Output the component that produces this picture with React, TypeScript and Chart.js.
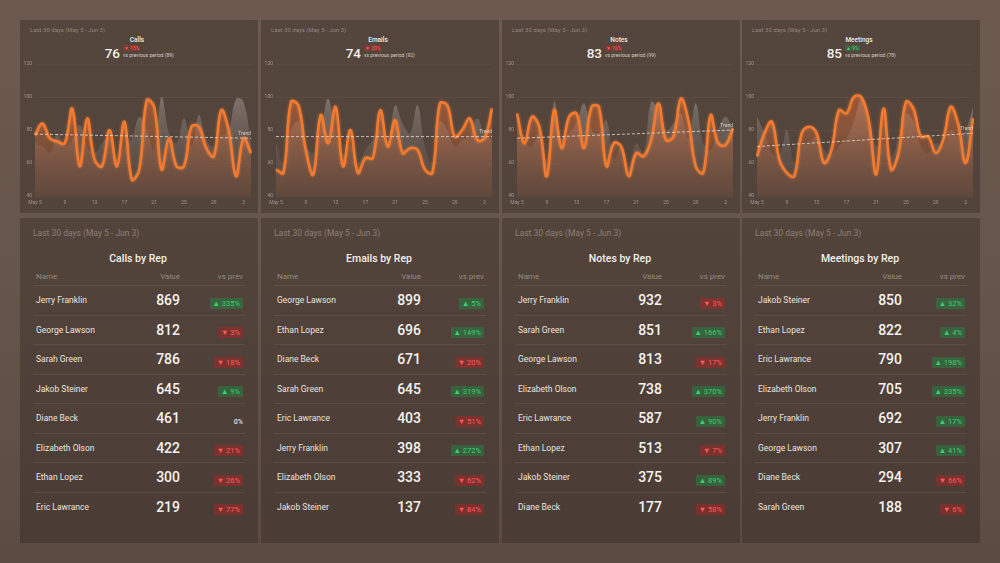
import React, { useEffect, useRef } from "react";
import { Chart, registerables } from "chart.js";
Chart.register(...registerables);

// ---------- data ----------
const dayLabels = [
  "May 5", "6", "7", "8", "9", "10", "11", "12", "13", "14", "15", "16", "17", "18", "19", "20",
  "21", "22", "23", "24", "25", "26", "27", "28", "29", "30", "31", "1", "2", "3",
];
const yTicks = [40, 60, 80, 100, 120];
const periodText = "Last 30 days (May 5 - Jun 3)";

const kpiTitles = ["Calls", "Emails", "Notes", "Meetings"];
const kpiValues = [76, 74, 83, 85];
const kpiPrevious = [89, 92, 99, 78];
const kpiChange = [-15, -20, -16, 9];

const callsCurrent = [77, 84, 75, 73, 72, 93, 58, 87, 62, 58, 80, 58, 85, 50, 56, 98, 94, 56, 75, 58, 58, 82, 82, 69, 64, 92, 80, 52, 75, 66];
const callsPrevious = [72, 70, 66, 78, 70, 74, 83, 70, 66, 72, 75, 62, 70, 75, 88, 80, 68, 100, 78, 72, 87, 70, 89, 74, 70, 76, 80, 99, 97, 72];
const emailsCurrent = [56, 54, 97, 95, 68, 53, 89, 72, 94, 58, 80, 54, 63, 63, 92, 70, 86, 66, 69, 68, 56, 54, 96, 95, 76, 80, 87, 74, 75, 93];
const emailsPrevious = [72, 60, 80, 85, 70, 66, 80, 99, 78, 65, 70, 60, 68, 74, 80, 72, 95, 84, 78, 95, 70, 60, 85, 80, 70, 74, 76, 87, 78, 74];
const notesCurrent = [90, 72, 88, 82, 52, 92, 69, 88, 90, 69, 94, 94, 58, 72, 70, 52, 66, 64, 74, 96, 74, 76, 99, 86, 58, 54, 89, 72, 71, 81];
const notesPrevious = [75, 72, 70, 80, 62, 97, 75, 78, 85, 96, 80, 78, 86, 62, 70, 58, 72, 66, 97, 92, 80, 84, 90, 75, 96, 72, 68, 80, 88, 80];
const meetingsCurrent = [64, 78, 85, 62, 54, 52, 78, 82, 78, 60, 68, 92, 90, 100, 100, 86, 53, 93, 56, 66, 97, 93, 76, 76, 66, 74, 94, 84, 60, 87];
const meetingsPrevious = [88, 78, 66, 64, 80, 60, 70, 72, 76, 68, 65, 70, 75, 85, 99, 88, 70, 72, 64, 75, 90, 85, 70, 66, 72, 70, 80, 76, 80, 94];

const trendStart = [77.5, 76, 75, 70];
const trendEnd = [75, 76, 80, 78];

const tableTitles = ["Calls by Rep", "Emails by Rep", "Notes by Rep", "Meetings by Rep"];

const callsReps = ["Jerry Franklin", "George Lawson", "Sarah Green", "Jakob Steiner", "Diane Beck", "Elizabeth Olson", "Ethan Lopez", "Eric Lawrance"];
const callsRepValues = [869, 812, 786, 645, 461, 422, 300, 219];
const callsRepChange = [335, -3, -18, 9, 0, -21, -26, -77];

const emailsReps = ["George Lawson", "Ethan Lopez", "Diane Beck", "Sarah Green", "Eric Lawrance", "Jerry Franklin", "Elizabeth Olson", "Jakob Steiner"];
const emailsRepValues = [899, 696, 671, 645, 403, 398, 333, 137];
const emailsRepChange = [5, 149, -20, 319, -51, 272, -62, -84];

const notesReps = ["Jerry Franklin", "Sarah Green", "George Lawson", "Elizabeth Olson", "Eric Lawrance", "Ethan Lopez", "Jakob Steiner", "Diane Beck"];
const notesRepValues = [932, 851, 813, 738, 587, 513, 375, 177];
const notesRepChange = [-3, 166, -17, 370, 90, -7, 89, -58];

const meetingsReps = ["Jakob Steiner", "Ethan Lopez", "Eric Lawrance", "Elizabeth Olson", "Jerry Franklin", "George Lawson", "Diane Beck", "Sarah Green"];
const meetingsRepValues = [850, 822, 790, 705, 692, 307, 294, 188];
const meetingsRepChange = [32, 4, 198, 335, 17, 41, -66, -6];

const currentSeries = [callsCurrent, emailsCurrent, notesCurrent, meetingsCurrent];
const previousSeries = [callsPrevious, emailsPrevious, notesPrevious, meetingsPrevious];
const repNames = [callsReps, emailsReps, notesReps, meetingsReps];
const repValues = [callsRepValues, emailsRepValues, notesRepValues, meetingsRepValues];
const repChanges = [callsRepChange, emailsRepChange, notesRepChange, meetingsRepChange];

// ---------- layout constants ----------
const PANEL_X = [20, 261, 502, 742];
const PANEL_W = 238;
const FONT = "Roboto, 'Noto Sans', sans-serif";

Chart.defaults.font.family = "Roboto";

const glowPlugin = {
  id: "glow",
  beforeDatasetDraw(chart: any, args: any) {
    if (chart.data.datasets[args.index].label === "Current") {
      const c = chart.ctx;
      c.save();
      c.shadowColor = "rgba(255,140,60,0.6)";
      c.shadowBlur = 3;
    }
  },
  afterDatasetDraw(chart: any, args: any) {
    if (chart.data.datasets[args.index].label === "Current") {
      chart.ctx.restore();
    }
  },
};

const trendLabelPlugin = {
  id: "trendLabel",
  afterDatasetsDraw(chart: any) {
    const idx = chart.data.datasets.findIndex((d: any) => d.label === "Trend");
    if (idx < 0) return;
    const meta = chart.getDatasetMeta(idx);
    const pts = meta.data;
    const last = pts[pts.length - 1];
    if (!last) return;
    const c = chart.ctx;
    c.save();
    c.font = "5px Roboto";
    c.fillStyle = "rgba(235,230,225,0.8)";
    c.textAlign = "right";
    c.textBaseline = "bottom";
    c.fillText("Trend", last.x, last.y - 2);
    c.restore();
  },
};

function LineChart({ i }: { i: number }) {
  const ref = useRef<HTMLCanvasElement | null>(null);
  useEffect(() => {
    if (!ref.current) return;
    const n = dayLabels.length;
    const trendData = dayLabels.map((_, j) =>
      j === 0 ? trendStart[i] : j === n - 1 ? trendEnd[i] : null
    );
    const chart = new Chart(ref.current, {
      type: "line",
      data: {
        labels: dayLabels,
        datasets: [
          {
            label: "Trend",
            data: trendData,
            borderColor: "rgba(235,230,225,0.75)",
            borderWidth: 1,
            borderDash: [3, 2],
            pointRadius: 0,
            fill: false,
            spanGaps: true,
            tension: 0,
            order: 0,
          },
          {
            label: "Current",
            data: currentSeries[i],
            borderColor: "#f47a30",
            borderWidth: 2.6,
            pointRadius: 0,
            tension: 0.4,
            fill: "start",
            backgroundColor: (ctx: any) => {
              const { chart: ch } = ctx;
              const area = ch.chartArea;
              if (!area) return "rgba(242,101,34,0.3)";
              const g = ch.ctx.createLinearGradient(0, area.top, 0, area.bottom);
              g.addColorStop(0, "rgba(242,115,50,0.55)");
              g.addColorStop(0.5, "rgba(220,108,55,0.38)");
              g.addColorStop(1, "rgba(160,88,52,0.18)");
              return g;
            },
            order: 1,
          },
          {
            label: "Previous",
            data: previousSeries[i],
            borderColor: "rgba(0,0,0,0)",
            borderWidth: 0,
            pointRadius: 0,
            tension: 0.4,
            fill: "start",
            backgroundColor: (ctx: any) => {
              const { chart: ch } = ctx;
              const area = ch.chartArea;
              if (!area) return "rgba(150,140,135,0.5)";
              const g = ch.ctx.createLinearGradient(0, area.top, 0, area.bottom);
              g.addColorStop(0, "rgba(175,168,163,0.7)");
              g.addColorStop(0.6, "rgba(120,110,105,0.45)");
              g.addColorStop(1, "rgba(90,80,75,0.2)");
              return g;
            },
            order: 2,
          },
        ],
      },
      options: {
        animation: false,
        responsive: false,
        maintainAspectRatio: false,
        layout: { padding: { top: 4, bottom: 5, left: 0, right: 7 } },
        plugins: {
          legend: { display: false },
          tooltip: { enabled: false },
        },
        scales: {
          x: {
            grid: { display: false, drawTicks: false },
            border: { display: false },
            ticks: {
              autoSkip: false,
              maxRotation: 0,
              padding: 4,
              font: { size: 5 },
              color: "rgba(210,200,192,0.6)",
              callback: (_v: any, idx: number) => (idx % 4 === 0 ? dayLabels[idx] : ""),
            },
            afterFit: (s: any) => {
              s.height = 12;
            },
          },
          y: {
            min: yTicks[0],
            max: yTicks[yTicks.length - 1],
            afterBuildTicks: (s: any) => {
              s.ticks = yTicks.map((v) => ({ value: v }));
            },
            grid: { color: "rgba(255,255,255,0.07)", lineWidth: 0.6, drawTicks: false },
            border: { display: false },
            ticks: {
              padding: 3,
              font: { size: 5 },
              color: "rgba(210,200,192,0.6)",
            },
            afterFit: (s: any) => {
              s.width = 15;
            },
          },
        },
      },
      plugins: [glowPlugin, trendLabelPlugin],
    } as any);
    return () => chart.destroy();
  }, [i]);
  return (
    <canvas
      ref={ref}
      width={PANEL_W}
      height={155}
      style={{ position: "absolute", left: 0, top: 38, width: PANEL_W, height: 155 }}
    />
  );
}

function TopPanel({ i }: { i: number }) {
  const up = kpiChange[i] > 0;
  return (
    <div
      style={{
        position: "absolute",
        left: PANEL_X[i],
        top: 20,
        width: PANEL_W,
        height: 193,
        background: "rgba(40,30,26,0.33)",
        fontFamily: FONT,
      }}
    >
      <div style={{ position: "absolute", left: 10, top: 6, fontSize: 6, color: "rgba(200,190,182,0.55)", whiteSpace: "nowrap" }}>
        {periodText}
      </div>
      <div style={{ position: "absolute", left: 0, width: PANEL_W - 4, top: 16, textAlign: "center", fontSize: 6.5, fontWeight: 500, color: "#f2ece8" }}>
        {kpiTitles[i]}
      </div>
      <div style={{ position: "absolute", right: PANEL_W - 100, top: 25, fontSize: 13.5, fontWeight: 500, color: "#f4efec", lineHeight: "16px" }}>
        {kpiValues[i]}
      </div>
      <div
        style={{
          position: "absolute",
          left: 103,
          top: 25,
          fontSize: 5,
          lineHeight: "6px",
          padding: "0 1px",
          color: up ? "#3fd27a" : "#ff5a5a",
          background: up ? "rgba(40,150,80,0.3)" : "rgba(200,40,40,0.3)",
          whiteSpace: "nowrap",
        }}
      >
        {(up ? "▲ " : "▼ ") + Math.abs(kpiChange[i]) + "%"}
      </div>
      <div style={{ position: "absolute", left: 103, top: 32, fontSize: 5, color: "rgba(235,228,222,0.85)", whiteSpace: "nowrap" }}>
        {"vs previous period (" + kpiPrevious[i] + ")"}
      </div>
      <LineChart i={i} />
    </div>
  );
}

function Badge({ v }: { v: number }) {
  if (v === 0) {
    return <span style={{ fontSize: 7, fontWeight: 500, color: "#e8e0da" }}>0%</span>;
  }
  const up = v > 0;
  return (
    <span
      style={{
        fontSize: 7.5,
        lineHeight: "11px",
        display: "inline-block",
        padding: "0 3px",
        color: up ? "#3ccf70" : "#ff5b5b",
        background: up ? "rgba(30,140,70,0.45)" : "rgba(170,35,35,0.5)",
        borderRadius: 1,
      }}
    >
      {(up ? "▲ " : "▼ ") + Math.abs(v) + "%"}
    </span>
  );
}

function TablePanel({ i }: { i: number }) {
  const ROW0 = 82; // center of first row, relative to panel top
  const ROWH = 29.5;
  return (
    <div
      style={{
        position: "absolute",
        left: PANEL_X[i],
        top: 218,
        width: PANEL_W,
        height: 325,
        background: "rgba(40,30,26,0.33)",
        fontFamily: FONT,
      }}
    >
      <div style={{ position: "absolute", left: 13, top: 10, fontSize: 8.5, color: "rgba(200,190,182,0.5)", whiteSpace: "nowrap" }}>
        {periodText}
      </div>
      <div style={{ position: "absolute", left: 0, width: PANEL_W - 2, top: 34, textAlign: "center", fontSize: 10.5, fontWeight: 500, color: "#f4efec" }}>
        {tableTitles[i]}
      </div>
      <div style={{ position: "absolute", left: 16, top: 54, fontSize: 8, color: "rgba(200,190,182,0.6)" }}>Name</div>
      <div style={{ position: "absolute", right: PANEL_W - 160, top: 54, fontSize: 8, color: "rgba(200,190,182,0.6)" }}>Value</div>
      <div style={{ position: "absolute", right: PANEL_W - 223, top: 54, fontSize: 8, color: "rgba(200,190,182,0.6)" }}>vs prev</div>
      {repNames[i].map((name, r) => {
        const cy = ROW0 + r * ROWH;
        return (
          <React.Fragment key={r}>
            <div style={{ position: "absolute", left: 13, width: 212, top: cy - ROWH / 2, height: 0, borderTop: "1px solid rgba(255,255,255,0.07)" }} />
            <div style={{ position: "absolute", left: 16, top: cy - 6, height: 12, lineHeight: "12px", fontSize: 8.5, color: "#ebe3dd", whiteSpace: "nowrap" }}>
              {name}
            </div>
            <div style={{ position: "absolute", right: PANEL_W - 160, top: cy - 9, height: 18, lineHeight: "18px", fontSize: 14, fontWeight: 500, color: "#f6f2ef" }}>
              {repValues[i][r]}
            </div>
            <div style={{ position: "absolute", right: PANEL_W - 223, top: cy - 5.5, height: 11, lineHeight: "11px" }}>
              <Badge v={repChanges[i][r]} />
            </div>
          </React.Fragment>
        );
      })}
    </div>
  );
}

export default function App() {
  return (
    <div
      style={{
        position: "fixed",
        left: 0,
        top: 0,
        width: 1000,
        height: 563,
        overflow: "hidden",
        background: "linear-gradient(180deg, #6c5a4e 0%, #66554a 50%, #5b4b42 100%)",
      }}
    >
      {[0, 1, 2, 3].map((i) => (
        <TopPanel key={"t" + i} i={i} />
      ))}
      {[0, 1, 2, 3].map((i) => (
        <TablePanel key={"b" + i} i={i} />
      ))}
    </div>
  );
}
